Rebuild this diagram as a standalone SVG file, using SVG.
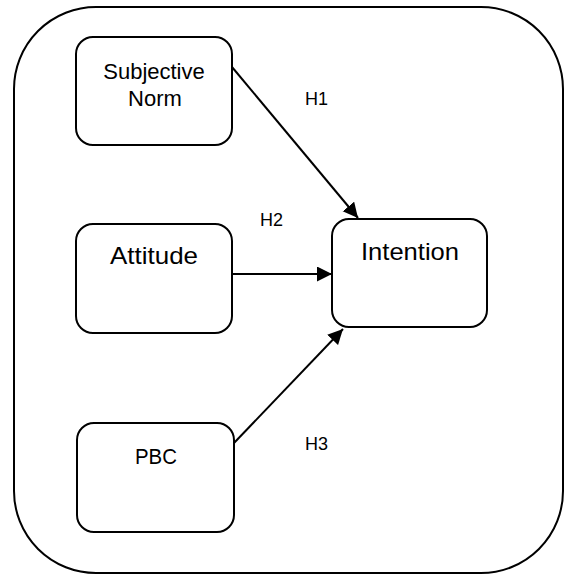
<svg xmlns="http://www.w3.org/2000/svg" width="564" height="574" viewBox="0 0 564 574">
<style>
.box{fill:#fff;stroke:#000;stroke-width:2}
.t{font-family:"Liberation Sans",Arial,sans-serif;fill:#000;text-anchor:middle}
.edge{stroke:#000;stroke-width:2;fill:none;marker-end:url(#ah)}
</style>
<defs>
<marker id="ah" markerUnits="userSpaceOnUse" markerWidth="16" markerHeight="16" refX="15" refY="7.5" orient="auto">
<path d="M0,0 L15,7.5 L0,15 z" fill="#000"/>
</marker>
</defs>
<rect x="14" y="7" width="549" height="566" rx="82" ry="82" fill="#fff" stroke="#000" stroke-width="2"/>
<g id="subjective-norm">
<rect class="box" x="76" y="37" width="156" height="108" rx="17"/>
<text class="t" x="154" y="79" font-size="22">Subjective</text>
<text class="t" x="155" y="106" font-size="22">Norm</text>
</g>
<g id="attitude">
<rect class="box" x="76" y="224" width="156" height="109" rx="17"/>
<text class="t" x="154" y="264" font-size="24" textLength="88" lengthAdjust="spacingAndGlyphs">Attitude</text>
</g>
<g id="intention">
<rect class="box" x="332" y="219" width="155" height="108" rx="17"/>
<text class="t" x="410" y="260" font-size="24" textLength="98" lengthAdjust="spacingAndGlyphs">Intention</text>
</g>
<g id="pbc">
<rect class="box" x="77" y="423" width="157" height="109" rx="17"/>
<text class="t" x="156" y="464" font-size="22" textLength="42" lengthAdjust="spacingAndGlyphs">PBC</text>
</g>
<g id="connectors">
<line class="edge" x1="232" y1="67" x2="358" y2="218"/>
<line class="edge" x1="232" y1="274" x2="332" y2="274"/>
<line class="edge" x1="234" y1="443" x2="343" y2="329"/>
<text class="t" x="316.5" y="105" font-size="18">H1</text>
<text class="t" x="271.5" y="226" font-size="18">H2</text>
<text class="t" x="316.5" y="450" font-size="18">H3</text>
</g>
</svg>
